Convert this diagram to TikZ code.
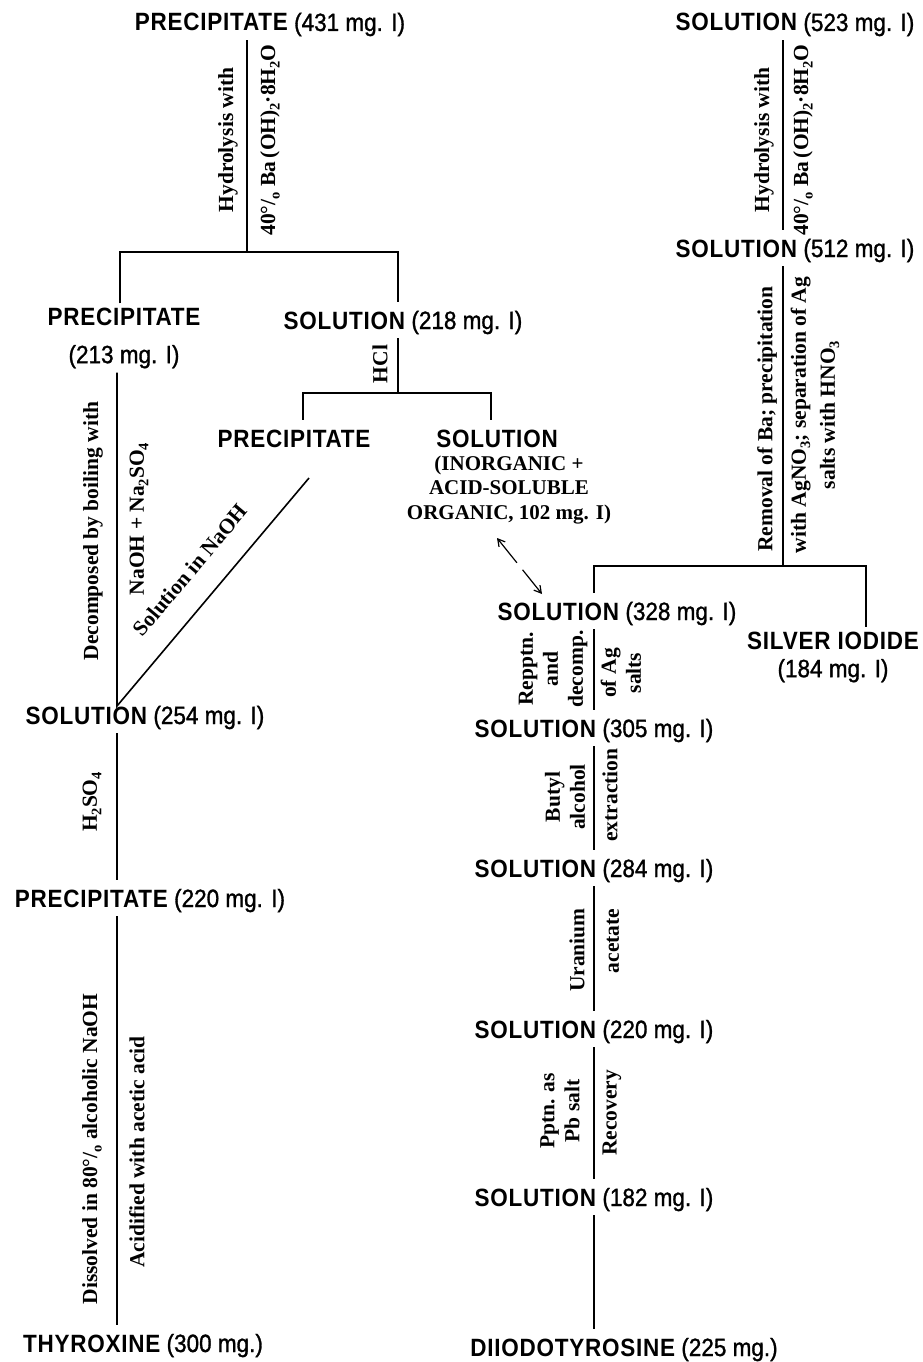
\documentclass[tikz,border=0pt]{standalone}
\usepackage{fontspec}
\setmainfont{Liberation Serif}
\newfontfamily\hcaps[FakeStretch=0.9,LetterSpace=3]{Liberation Sans}
\newfontfamily\hnum[FakeStretch=0.9,FakeBold=1.2]{Liberation Sans}
\usetikzlibrary{arrows.meta}
\newcommand\lowsub[1]{\raisebox{-0.45ex}{\fontsize{14.5}{14.5}\selectfont #1}}
\newcommand\hw[1]{{\hcaps\bfseries #1}}
\begin{document}
\begin{tikzpicture}[x=1pt,y=-1pt,
  head/.style={font=\hnum\fontsize{25}{30}\selectfont, inner xsep=0pt, inner ysep=9pt, text height=18pt, text depth=0pt},
  head2/.style={font=\hnum\fontsize{25}{30}\selectfont, inner xsep=0pt, inner ysep=4pt, align=center},
  lab/.style={font=\bfseries\fontsize{21.5}{25}\selectfont, inner sep=0pt, align=center, rotate=90},
  labh/.style={font=\bfseries\fontsize{21}{24.5}\selectfont, inner sep=0pt, align=center},
  conn/.style={line width=1.6pt},
  dconn/.style={line width=1.2pt, {Straight Barb[length=7pt,width=8pt]}-{Straight Barb[length=7pt,width=8pt]}, dash pattern=on 30pt off 9pt}
]
\fill[white] (0,0) rectangle (923,1362);
\useasboundingbox (0,0) rectangle (923,1362);

% headings
\node[head] (p431) at (270,22) {\hw{PRECIPITATE} (431 mg. I)};
\node[head] (s523) at (795,22) {\hw{SOLUTION} (523 mg. I)};
\node[head] (s512) at (795,248) {\hw{SOLUTION} (512 mg. I)};
\node[head2] (p213) at (124,338) {\hw{PRECIPITATE}\\[8pt](213 mg. I)};
\node[head] (s218) at (403,320) {\hw{SOLUTION} (218 mg. I)};
\node[head] (pmid) at (294,438) {\hw{PRECIPITATE}};
\node[head] (smid) at (497,438) {\hw{SOLUTION}};
\node[labh] (inorg) at (509,490) {(INORGANIC +\\ACID-SOLUBLE\\ORGANIC, 102 mg. I)};
\node[head] (s328) at (617,611) {\hw{SOLUTION} (328 mg. I)};
\node[head2] (silver) at (833,657) {\hw{SILVER IODIDE}\\[-2pt](184 mg. I)};
\node[head] (s254) at (145,715) {\hw{SOLUTION} (254 mg. I)};
\node[head] (p220) at (150,898) {\hw{PRECIPITATE} (220 mg. I)};
\node[head] (thy) at (143,1343) {\hw{THYROXINE} (300 mg.)};
\node[head] (s305) at (594,728) {\hw{SOLUTION} (305 mg. I)};
\node[head] (s284) at (594,868) {\hw{SOLUTION} (284 mg. I)};
\node[head] (s220) at (594,1029) {\hw{SOLUTION} (220 mg. I)};
\node[head] (s182) at (594,1197) {\hw{SOLUTION} (182 mg. I)};
\node[head] (diio) at (624,1347) {\hw{DIIODOTYROSINE} (225 mg.)};

% coordinates
\coordinate (j1) at (247,252);
\coordinate (xa) at (120,0);
\coordinate (xb) at (398,0);
\coordinate (j2) at (398,393);
\coordinate (xc) at (303,0);
\coordinate (xd) at (491,0);
\coordinate (xe) at (117,0);
\coordinate (v1) at (117,706);
\coordinate (d1) at (309,478);
\coordinate (j3) at (783,566);
\coordinate (xf) at (594,0);
\coordinate (xg) at (866,0);
\coordinate (a1) at (497,538);
\coordinate (a2) at (542,594);

% connectors
\draw[conn] (p431.south -| j1) -- (j1);
\draw[conn] (p213.north -| xa) |- (j1) -| (s218.north -| xb);
\draw[conn] (s218.south -| xb) -- (j2);
\draw[conn] (pmid.north -| xc) |- (j2) -| (smid.north -| xd);
\draw[conn] (p213.south -| xe) -- (v1) -- (d1);
\draw[conn] (s254.south -| xe) -- (p220.north -| xe);
\draw[conn] (p220.south -| xe) -- (thy.north -| xe);
\draw[conn] (s523.south -| j3) -- (s512.north -| j3);
\draw[conn] (s512.south -| j3) -- (j3);
\draw[conn] (s328.north -| xf) |- (j3) -| (silver.north -| xg);
\draw[conn] (s328.south -| xf) -- (s305.north -| xf);
\draw[conn] (s305.south -| xf) -- (s284.north -| xf);
\draw[conn] (s284.south -| xf) -- (s220.north -| xf);
\draw[conn] (s220.south -| xf) -- (s182.north -| xf);
\draw[conn] (s182.south -| xf) -- (diio.north -| xf);
\draw[dconn] (a1) -- (a2);

% labels
\node[lab] (l1) at (228,140) {Hydrolysis with};
\node[lab] (l2) at (270,140) {40°/\lowsub{o} Ba\,(OH)\lowsub{2}·8H\lowsub{2}O};
\node[lab] (l3) at (764,140) {Hydrolysis with};
\node[lab] (l4) at (803,140) {40°/\lowsub{o} Ba\,(OH)\lowsub{2}·8H\lowsub{2}O};
\node[lab] (l5) at (380,364) {HCl};
\node[lab] (l6) at (93,531) {Decomposed by boiling with};
\node[lab] (l7) at (139,519) {NaOH + Na\lowsub{2}SO\lowsub{4}};
\node[lab, rotate=-40] (l8) at (190,570) {Solution in NaOH};
\node[lab] (l9) at (767,419) {Removal of Ba; precipitation};
\node[lab, font=\bfseries\fontsize{21.5}{29}\selectfont] (l10) at (815,415) {with AgNO\lowsub{3}; separation of Ag\\salts with HNO\lowsub{3}};
\node[lab] (l11) at (553,669) {Repptn.\\and\\decomp.};
\node[lab] (l12) at (621,673) {of Ag\\salts};
\node[lab] (l13) at (565,797) {Butyl\\alcohol};
\node[lab] (l14) at (610,795) {extraction};
\node[lab] (l15) at (577,950) {Uranium};
\node[lab] (l16) at (613,941) {acetate};
\node[lab] (l17) at (560,1111) {Pptn. as\\Pb salt};
\node[lab] (l18) at (612,1113) {Recovery};
\node[lab] (l19) at (92,802) {H\lowsub{2}SO\lowsub{4}};
\node[lab] (l20) at (92,1149) {Dissolved in 80°/\lowsub{o} alcoholic NaOH};
\node[lab] (l21) at (137,1152) {Acidified with acetic acid};
\end{tikzpicture}
\end{document}
